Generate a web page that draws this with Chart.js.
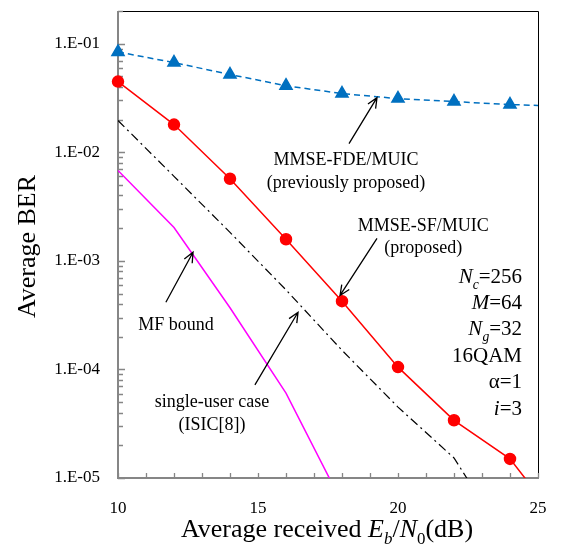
<!DOCTYPE html>
<html>
<head>
<meta charset="utf-8">
<script src="https://cdn.jsdelivr.net/npm/chart.js@4.4.1/dist/chart.umd.min.js"></script>
<style>
    html, body { margin: 0; padding: 0; background: #fff; }
    canvas { display: block; }
</style>
</head>
<body>
<canvas id="berChart" width="561" height="545"></canvas>
<script>
// Curvas de BER (Eb/N0 em dB)
const fdeSnr = [10, 12, 14, 16, 18, 20, 22, 24, 25];
const fdeBer = [0.084, 0.067, 0.052, 0.041, 0.0347, 0.0312, 0.0293, 0.0275, 0.027];

const sfSnr = [10, 12, 14, 16, 18, 20, 22, 24, 25];
const sfBer = [0.0448, 0.018, 0.0057, 0.00158, 4.25e-4, 1.05e-4, 3.4e-5, 1.5e-5, 7e-6];

const suSnr = [10, 12, 14, 16, 18, 20, 22, 23];
const suBer = [0.0196, 0.006, 0.00183, 5.4e-4, 1.5e-4, 4.5e-5, 1.53e-5, 6e-6];

const mfSnr = [10, 12, 14, 16, 18];
const mfBer = [0.0068, 0.00203, 3.7e-4, 6.05e-5, 5.9e-6];

// Eixos
const xTickValues = [10, 15, 20, 25];
const xTickLabels = ['10', '15', '20', '25'];
const yTickValues = [1e-5, 1e-4, 1e-3, 1e-2, 1e-1];
const yTickLabels = ['1.E-05', '1.E-04', '1.E-03', '1.E-02', '1.E-01'];
const yMax = 0.2;

const serif = "'Liberation Serif', 'Times New Roman', serif";
const axisGray = '#868686';

function pairs(xs, ys) {
    return xs.map((x, i) => ({ x: x, y: ys[i] }));
}

// marcas menores: 1..9 x 10^n e cada 1 dB
const yMinorTicks = [];
yTickValues.forEach(d => {
    for (let k = 1; k <= 9; k++) {
        const v = k * d;
        if (v <= yMax * 1.0001) yMinorTicks.push(v);
    }
});
const xMinorTicks = [];
for (let x = xTickValues[0]; x <= xTickValues[xTickValues.length - 1]; x++) xMinorTicks.push(x);

// Textos e setas (posições em coordenadas dos dados)
const notes = [
    { at: [18.14, 0.0076], align: 'center', size: 18, gap: 23,
      lines: [[{ t: 'MMSE-FDE/MUIC' }], [{ t: '(previously proposed)' }]] },
    { at: [20.9, 0.00187], align: 'center', size: 18, gap: 22,
      lines: [[{ t: 'MMSE-SF/MUIC' }], [{ t: '(proposed)' }]] },
    { at: [24.43, 6.3e-4], align: 'right', size: 21, gap: 26.4,
      lines: [
          [{ t: 'N', i: true }, { t: 'c', i: true, sub: true }, { t: '=256' }],
          [{ t: 'M', i: true }, { t: '=64' }],
          [{ t: 'N', i: true }, { t: 'g', i: true, sub: true }, { t: '=32' }],
          [{ t: '16QAM' }],
          [{ t: 'α=1' }],
          [{ t: 'i', i: true }, { t: '=3' }]
      ] },
    { at: [12.07, 2.3e-4], align: 'center', size: 18, gap: 0,
      lines: [[{ t: 'MF bound' }]] },
    { at: [13.36, 4.5e-5], align: 'center', size: 18, gap: 23,
      lines: [[{ t: 'single-user case' }], [{ t: '(ISIC[8])' }]] }
];
const arrows = [
    { from: [18.25, 0.012], to: [19.25, 0.0318] },
    { from: [19.25, 0.00161], to: [17.93, 4.8e-4] },
    { from: [11.71, 4.15e-4], to: [12.68, 1.2e-3] },
    { from: [14.89, 7.2e-5], to: [16.43, 3.36e-4] }
];

function drawRich(ctx, segs, x, y, size, align) {
    const parts = segs.map(s => {
        const fs = s.sub ? size * 0.65 : size;
        ctx.font = (s.i ? 'italic ' : '') + fs + 'px ' + serif;
        return { s: s, fs: fs, w: ctx.measureText(s.t).width };
    });
    const total = parts.reduce((a, p) => a + p.w, 0);
    let cx = align === 'center' ? x - total / 2 : (align === 'right' ? x - total : x);
    ctx.textAlign = 'left';
    ctx.textBaseline = 'alphabetic';
    ctx.fillStyle = '#000';
    parts.forEach(p => {
        ctx.font = (p.s.i ? 'italic ' : '') + p.fs + 'px ' + serif;
        ctx.fillText(p.s.t, cx, y + (p.s.sub ? size * 0.28 : 0));
        cx += p.w;
    });
}

function drawArrow(ctx, x1, y1, x2, y2) {
    const ang = Math.atan2(y2 - y1, x2 - x1);
    const head = 11;
    ctx.save();
    ctx.strokeStyle = '#000';
    ctx.lineWidth = 1.3;
    ctx.beginPath();
    ctx.moveTo(x1, y1);
    ctx.lineTo(x2, y2);
    ctx.moveTo(x2 - head * Math.cos(ang - 0.42), y2 - head * Math.sin(ang - 0.42));
    ctx.lineTo(x2, y2);
    ctx.lineTo(x2 - head * Math.cos(ang + 0.42), y2 - head * Math.sin(ang + 0.42));
    ctx.stroke();
    ctx.restore();
}

const framePlugin = {
    id: 'frame',
    beforeDatasetsDraw(chart) {
        const ctx = chart.ctx;
        const a = chart.chartArea;
        const xs = chart.scales.x, ys = chart.scales.y;
        ctx.save();
        // borda superior/direita
        ctx.strokeStyle = '#000';
        ctx.lineWidth = 1;
        ctx.beginPath();
        ctx.moveTo(a.left, a.top + 0.5);
        ctx.lineTo(a.right + 0.5, a.top + 0.5);
        ctx.lineTo(a.right + 0.5, a.bottom);
        ctx.stroke();
        // marcas internas
        ctx.strokeStyle = axisGray;
        ctx.lineWidth = 1.3;
        ctx.beginPath();
        ys.ticks.forEach(t => {
            const y = Math.round(ys.getPixelForValue(t.value)) + 0.5;
            const major = Math.abs(Math.log10(t.value) - Math.round(Math.log10(t.value))) < 1e-6;
            ctx.moveTo(a.left, y);
            ctx.lineTo(a.left + (major ? 7 : 5), y);
        });
        xs.ticks.forEach(t => {
            const x = Math.round(xs.getPixelForValue(t.value)) + 0.5;
            ctx.moveTo(x, a.bottom);
            ctx.lineTo(x, a.bottom - 5);
        });
        ctx.stroke();
        // eixos cinza
        ctx.lineWidth = 2;
        ctx.beginPath();
        ctx.moveTo(a.left, a.top);
        ctx.lineTo(a.left, a.bottom);
        ctx.lineTo(a.right + 1, a.bottom);
        ctx.stroke();
        ctx.restore();
    },
    afterDatasetsDraw(chart) {
        const ctx = chart.ctx;
        const xs = chart.scales.x, ys = chart.scales.y;
        const a = chart.chartArea;
        ctx.save();
        arrows.forEach(ar => {
            drawArrow(ctx,
                xs.getPixelForValue(ar.from[0]), ys.getPixelForValue(ar.from[1]),
                xs.getPixelForValue(ar.to[0]), ys.getPixelForValue(ar.to[1]));
        });
        notes.forEach(n => {
            const x = xs.getPixelForValue(n.at[0]);
            const y = ys.getPixelForValue(n.at[1]);
            n.lines.forEach((segs, i) => drawRich(ctx, segs, x, y + i * n.gap, n.size, n.align));
        });
        // títulos dos eixos
        ctx.save();
        ctx.translate(26, (a.top + a.bottom) / 2 + 2);
        ctx.rotate(-Math.PI / 2);
        drawRich(ctx, [{ t: 'Average BER' }], 0, 9, 26, 'center');
        ctx.restore();
        drawRich(ctx, [
            { t: 'Average received ' },
            { t: 'E', i: true }, { t: 'b', i: true, sub: true },
            { t: '/' },
            { t: 'N', i: true }, { t: '0', sub: true },
            { t: '(dB)' }
        ], (a.left + a.right) / 2 - 1, 537, 26, 'center');
        ctx.restore();
    }
};

new Chart(document.getElementById('berChart').getContext('2d'), {
    type: 'line',
    data: {
        datasets: [
            {
                label: 'MMSE-FDE/MUIC',
                data: pairs(fdeSnr, fdeBer),
                borderColor: '#0070C0',
                backgroundColor: '#0070C0',
                borderWidth: 1.5,
                borderDash: [6, 4],
                pointStyle: 'triangle',
                pointRadius: fdeSnr.map((x, i) => i === fdeSnr.length - 1 ? 0 : 7),
                clip: { left: 12, top: 0, right: 0, bottom: 0 }
            },
            {
                label: 'MMSE-SF/MUIC',
                data: pairs(sfSnr, sfBer),
                borderColor: '#FF0000',
                backgroundColor: '#FF0000',
                borderWidth: 1.5,
                pointStyle: 'circle',
                pointRadius: sfSnr.map((x, i) => i === sfSnr.length - 1 ? 0 : 5.5),
                clip: { left: 12, top: 0, right: 0, bottom: 0 }
            },
            {
                label: 'single-user case',
                data: pairs(suSnr, suBer),
                borderColor: '#000',
                borderWidth: 1.2,
                borderDash: [9, 4, 2, 4],
                pointRadius: 0,
                clip: 0
            },
            {
                label: 'MF bound',
                data: pairs(mfSnr, mfBer),
                borderColor: '#FF00FF',
                borderWidth: 1.5,
                pointRadius: 0,
                clip: 0
            }
        ]
    },
    options: {
        responsive: false,
        animation: false,
        devicePixelRatio: 1,
        layout: { padding: { top: 11, right: 23, left: 0, bottom: 0 } },
        plugins: {
            legend: { display: false },
            tooltip: { enabled: false }
        },
        elements: { line: { tension: 0 } },
        scales: {
            x: {
                type: 'linear',
                min: 10,
                max: 25,
                grid: { display: false, drawTicks: false },
                border: { display: false },
                afterBuildTicks: scale => { scale.ticks = xMinorTicks.map(v => ({ value: v })); },
                afterFit: scale => {
                    scale.height = 67;
                    scale.paddingLeft = 0;
                    scale.paddingRight = 0;
                    scale.paddingTop = 0;
                    scale.paddingBottom = 0;
                },
                ticks: {
                    autoSkip: false,
                    maxRotation: 0,
                    padding: 20,
                    color: '#000',
                    font: { family: serif, size: 17 },
                    callback: function(value) {
                        const i = xTickValues.indexOf(value);
                        return i >= 0 ? xTickLabels[i] : '';
                    }
                }
            },
            y: {
                type: 'logarithmic',
                min: yTickValues[0],
                max: yMax,
                grid: { display: false, drawTicks: false },
                border: { display: false },
                afterBuildTicks: scale => { scale.ticks = yMinorTicks.map(v => ({ value: v })); },
                afterFit: scale => {
                    scale.width = 118;
                    scale.paddingLeft = 0;
                    scale.paddingRight = 0;
                    scale.paddingTop = 0;
                    scale.paddingBottom = 0;
                },
                ticks: {
                    autoSkip: false,
                    padding: 18,
                    color: '#000',
                    font: { family: serif, size: 17 },
                    callback: function(value) {
                        const e = Math.log10(value);
                        if (Math.abs(e - Math.round(e)) > 1e-6) return '';
                        const i = yTickValues.findIndex(v => Math.abs(Math.log10(v) - e) < 1e-6);
                        return i >= 0 ? yTickLabels[i] : '';
                    }
                }
            }
        }
    },
    plugins: [framePlugin]
});
</script>
</body>
</html>
